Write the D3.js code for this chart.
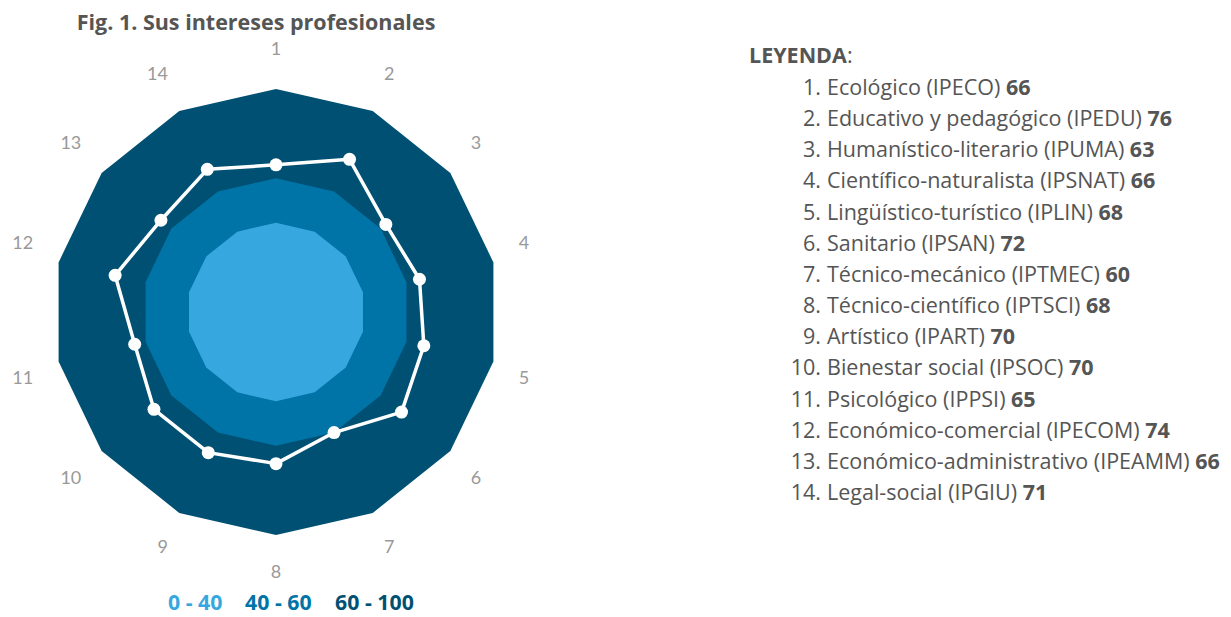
<!DOCTYPE html>
<html>
<head>
<meta charset="utf-8">
<script src="https://cdn.jsdelivr.net/npm/d3@7/dist/d3.min.js"></script>
<style>
  html, body { margin: 0; padding: 0; background: #fff; }
  svg { display: block; }
  text { font-family: "Open Sans", Lato, sans-serif; }
  text.ax { font-family: Lato, "Open Sans", sans-serif; }
</style>
</head>
<body>
<svg id="chart" width="1231" height="617"></svg>
<script>
// ---- data ----
const axisLabels = ["1","2","3","4","5","6","7","8","9","10","11","12","13","14"];
const categories = [
  "Ecológico (IPECO)",
  "Educativo y pedagógico (IPEDU)",
  "Humanístico-literario (IPUMA)",
  "Científico-naturalista (IPSNAT)",
  "Lingüístico-turístico (IPLIN)",
  "Sanitario (IPSAN)",
  "Técnico-mecánico (IPTMEC)",
  "Técnico-científico (IPTSCI)",
  "Artístico (IPART)",
  "Bienestar social (IPSOC)",
  "Psicológico (IPPSI)",
  "Económico-comercial (IPECOM)",
  "Económico-administrativo (IPEAMM)",
  "Legal-social (IPGIU)"
];
const values = [66, 76, 63, 66, 68, 72, 60, 68, 70, 70, 65, 74, 66, 71];
const bandMax = [100, 60, 40];
const bandLabels = ["0 - 40", "40 - 60", "60 - 100"];
const titleText = "Fig. 1. Sus intereses profesionales";
const legendTitle = "LEYENDA";

// ---- layout ----
const svg = d3.select("#chart");
const cx = 276, cy = 312, R = 223;
const bandColors = {100: "#005073", 60: "#0073a7", 40: "#36a8df"};
const legendColors = ["#36a8df", "#0073a7", "#005073"];

const rScale = d3.scaleLinear().domain([0, 100]).range([0, R]);
const aScale = d3.scaleLinear().domain([0, axisLabels.length]).range([0, 2 * Math.PI]);

const pt = (i, v) => {
  const a = aScale(i), r = rScale(v);
  return [cx + r * Math.sin(a), cy - r * Math.cos(a)];
};

const g = svg.append("g");

// bands
g.selectAll("path.band").data(bandMax).join("path")
  .attr("class", "band")
  .attr("d", m => d3.line()(axisLabels.map((_, i) => pt(i, m))) + "Z")
  .attr("fill", m => bandColors[m]);

// data line
g.append("path")
  .attr("d", d3.line()(values.map((v, i) => pt(i, v))) + "Z")
  .attr("fill", "none")
  .attr("stroke", "#fff")
  .attr("stroke-width", 3.5)
  .attr("stroke-linejoin", "round");

g.selectAll("circle.pt").data(values).join("circle")
  .attr("class", "pt")
  .attr("cx", (v, i) => pt(i, v)[0])
  .attr("cy", (v, i) => pt(i, v)[1])
  .attr("r", 6.5)
  .attr("fill", "#fff");

// axis labels
const labelR = R + 26;
g.selectAll("text.ax").data(axisLabels).join("text")
  .attr("class", "ax")
  .each(function(d, i) {
    const a = aScale(i);
    const s = Math.sin(a), c = Math.cos(a);
    const x = cx + labelR * s, y = cy - labelR * c;
    const anchor = Math.abs(s) < 0.05 ? "middle" : (s > 0 ? "start" : "end");
    const yy = c > 0 ? y - 8 : y + 17;
    d3.select(this).attr("x", x).attr("y", yy).attr("text-anchor", anchor);
  })
  .attr("font-size", 18)
  .attr("fill", "#999")
  .text(d => d);

// title
svg.append("text")
  .attr("x", 256).attr("y", 30)
  .attr("text-anchor", "middle")
  .attr("font-size", 21.5).attr("font-weight", "bold")
  .attr("fill", "#555")
  .text(titleText);

// band legend below
const bl = svg.append("g");
const blX = [168, 245, 335];
bandLabels.forEach((t, i) => {
  bl.append("text")
    .attr("x", blX[i]).attr("y", 610)
    .attr("font-size", 21.3).attr("font-weight", "bold")
    .attr("fill", legendColors[i])
    .text(t);
});

// right legend
const lg = svg.append("g");
const lt = lg.append("text").attr("x", 749).attr("y", 63)
  .attr("font-size", 21.5).attr("fill", "#555");
lt.append("tspan").attr("font-weight", "bold").text(legendTitle);
lt.append("tspan").text(":");

const rowY = d3.scaleLinear().domain([0, 13]).range([95, 500]);
categories.forEach((c, i) => {
  lg.append("text")
    .attr("x", 821).attr("y", rowY(i))
    .attr("text-anchor", "end")
    .attr("font-size", 21.5).attr("fill", "#555")
    .text((i + 1) + ".");
  const t = lg.append("text")
    .attr("x", 827).attr("y", rowY(i))
    .attr("font-size", 21.5).attr("fill", "#555");
  t.append("tspan").text(c + " ");
  t.append("tspan").attr("font-weight", "bold").text(values[i]);
});
</script>
</body>
</html>
